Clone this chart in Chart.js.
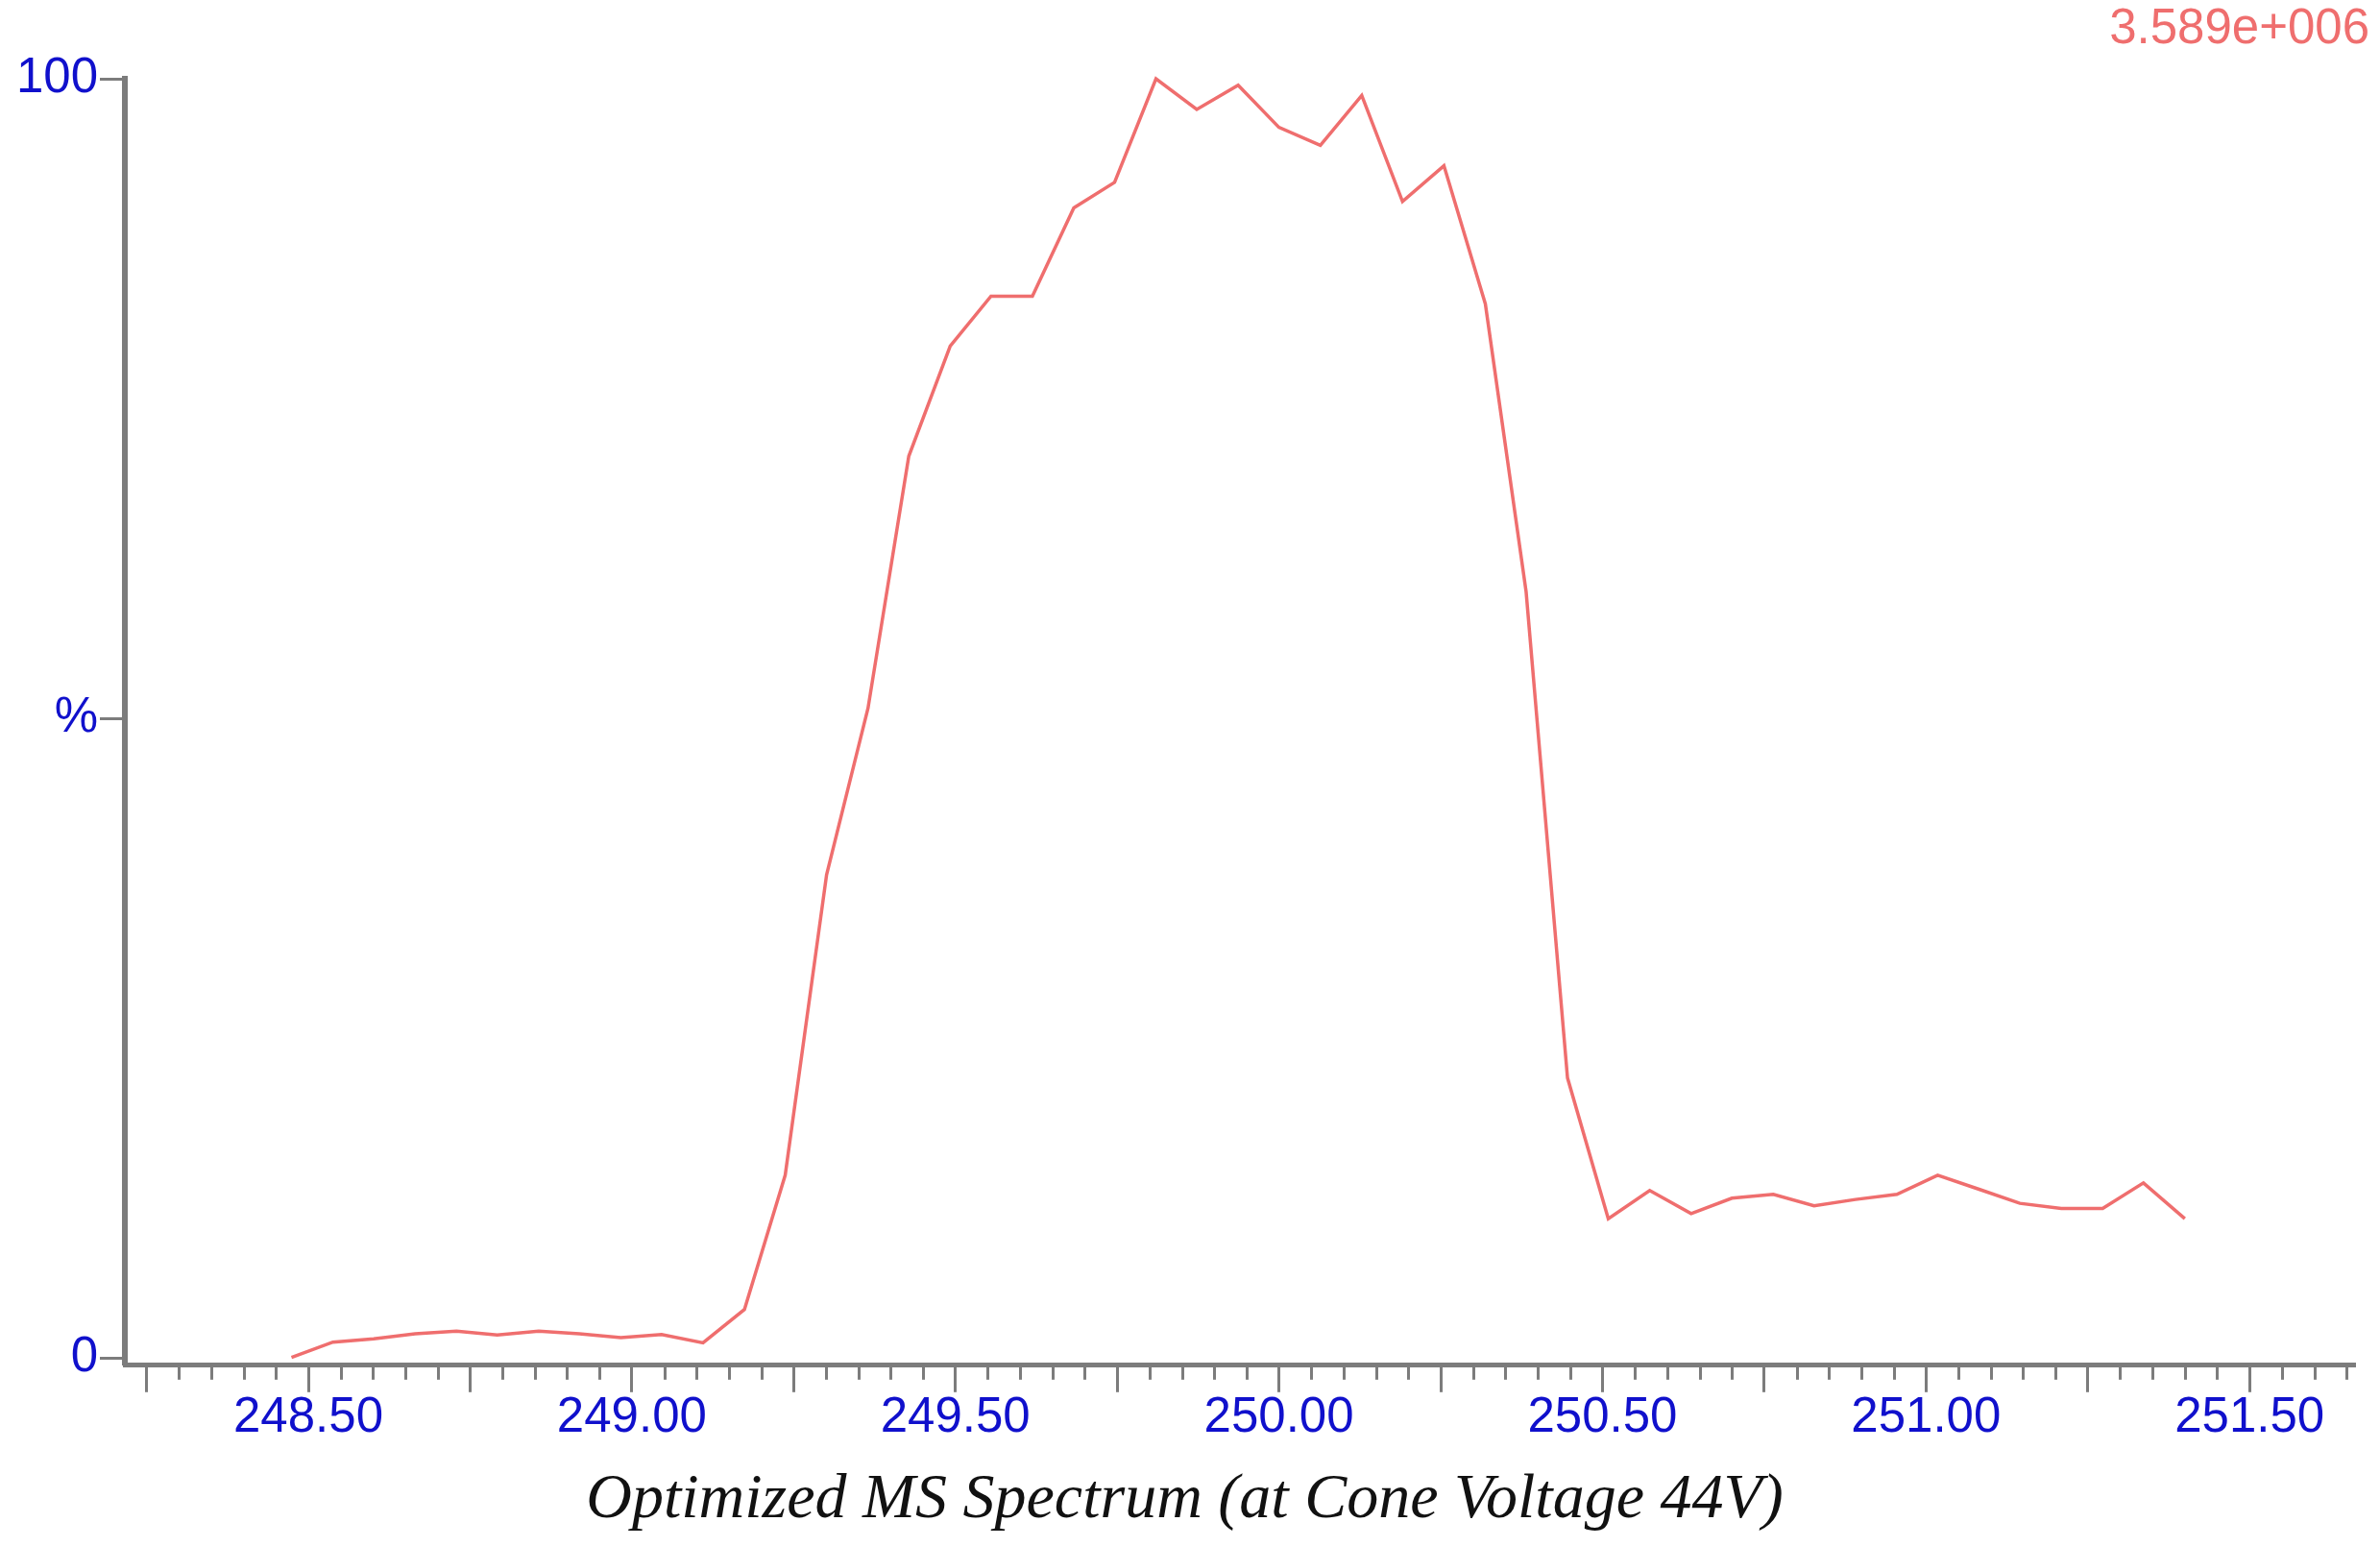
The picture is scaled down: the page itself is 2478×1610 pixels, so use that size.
<!DOCTYPE html>
<html>
<head>
<meta charset="utf-8">
<title>Optimized MS Spectrum</title>
<script src="https://cdn.jsdelivr.net/npm/chart.js@4/dist/chart.umd.min.js"></script>
<style>
  html, body { margin: 0; padding: 0; background: #ffffff; }
  #wrap { width: 2478px; height: 1610px; position: relative; }
</style>
</head>
<body>
<div id="wrap"><canvas id="spectrumChart"></canvas></div>
<script>
/* ---- data ---- */
const mzValues = [
    248.474, 248.538, 248.601, 248.665, 248.729, 248.792, 248.856, 248.919,
    248.983, 249.046, 249.110, 249.174, 249.237, 249.301, 249.365, 249.428,
    249.492, 249.555, 249.619, 249.683, 249.746, 249.810, 249.873, 249.937,
    250.000, 250.064, 250.128, 250.191, 250.255, 250.319, 250.382, 250.446,
    250.509, 250.573, 250.637, 250.700, 250.764, 250.827, 250.891, 250.955,
    251.018, 251.082, 251.145, 251.209, 251.273, 251.336, 251.400
];
const intensityPct = [
    0.05, 1.25, 1.5, 1.9, 2.1, 1.8, 2.1, 1.9,
    1.6, 1.85, 1.2, 3.8, 14.3, 37.8, 50.8, 70.5,
    79.1, 83.0, 83.0, 89.9, 91.9, 100, 97.6, 99.5,
    96.2, 94.8, 98.7, 90.4, 93.2, 82.4, 59.9, 21.9,
    10.9, 13.1, 11.3, 12.5, 12.8, 11.9, 12.4, 12.8,
    14.3, 13.2, 12.1, 11.7, 11.7, 13.7, 10.9
];

const xMajorTicks = [248.25, 248.50, 248.75, 249.00, 249.25, 249.50, 249.75,
                     250.00, 250.25, 250.50, 250.75, 251.00, 251.25, 251.50];
const xTickLabels = ["248.50", "249.00", "249.50", "250.00", "250.50", "251.00", "251.50"];
const yTickValues = [0, 50, 100];
const yTickLabels = ["0", "%", "100"];

const baseIntensity = "3.589e+006";
const chartTitle = "Optimized MS Spectrum (at Cone Voltage 44V)";

/* ---- colours ---- */
const axisGrey = "#7c7c7c";
const tickBlue = "#1010cc";
const traceRed = "#ef6e6e";
const sansFont = "'Liberation Sans', Arial, sans-serif";

/* minor ticks every 0.05 between the longer ones */
const minorTicks = {
    id: "minorTicks",
    afterDraw(chart) {
        const xs = chart.scales.x;
        const ctx = chart.ctx;
        ctx.save();
        ctx.strokeStyle = axisGrey;
        ctx.lineWidth = 3;
        for (let i = 0; ; i++) {
            const v = 248.25 + i * 0.05;
            if (v > xs.max) break;
            if (i % 5 === 0) continue;
            const px = Math.round(xs.getPixelForValue(v)) + 0.5;
            ctx.beginPath();
            ctx.moveTo(px, xs.top);
            ctx.lineTo(px, xs.top + 15);
            ctx.stroke();
        }
        ctx.restore();
    }
};

new Chart(document.getElementById("spectrumChart"), {
    type: "line",
    data: {
        datasets: [{
            data: mzValues.map((m, i) => ({ x: m, y: intensityPct[i] })),
            borderColor: traceRed,
            borderWidth: 3.5,
            pointRadius: 0,
            tension: 0,
            fill: false,
            clip: 6
        }]
    },
    options: {
        responsive: true,
        maintainAspectRatio: false,
        animation: false,
        layout: { padding: { left: 0, right: 11, top: 0, bottom: 0 } },
        plugins: {
            legend: { display: false },
            tooltip: { enabled: false },
            subtitle: {
                display: true,
                position: "top",
                align: "end",
                text: baseIntensity,
                color: traceRed,
                font: { family: sansFont, size: 51, weight: "normal", lineHeight: 1.1 },
                padding: { top: 3, bottom: 22.9 }
            },
            title: {
                display: true,
                position: "bottom",
                text: chartTitle,
                color: "#111111",
                font: { family: "'Liberation Serif', 'Times New Roman', serif", size: 66, style: "italic", weight: "normal", lineHeight: 1.2 },
                padding: { top: 0, bottom: 8 }
            }
        },
        scales: {
            x: {
                type: "linear",
                min: 248.2165,
                max: 251.663,
                afterBuildTicks: s => { s.ticks = xMajorTicks.map(v => ({ value: v })); },
                afterFit: s => { s.height = 101; },
                border: { display: true, color: axisGrey, width: 5 },
                grid: { drawOnChartArea: false, drawTicks: true, tickLength: 28, tickWidth: 3, tickColor: axisGrey },
                ticks: {
                    autoSkip: false,
                    maxRotation: 0,
                    padding: 2,
                    color: tickBlue,
                    font: { family: sansFont, size: 51, lineHeight: 1.0 },
                    callback: v => {
                        const t = Number(v).toFixed(2);
                        return xTickLabels.includes(t) ? t : "";
                    }
                }
            },
            y: {
                min: -0.56,
                max: 100,
                afterBuildTicks: s => { s.ticks = yTickValues.map(v => ({ value: v })); },
                afterFit: s => { s.width = 130; },
                border: { display: true, color: axisGrey, width: 6 },
                grid: { drawOnChartArea: false, drawTicks: true, tickLength: 26, tickWidth: 3, tickColor: axisGrey },
                ticks: {
                    padding: 2,
                    color: tickBlue,
                    font: { family: sansFont, size: 51, lineHeight: 1.0 },
                    callback: v => {
                        const i = yTickValues.indexOf(v);
                        return i >= 0 ? yTickLabels[i] : "";
                    }
                }
            },
            yRight: {
                position: "right",
                display: true,
                border: { display: false },
                grid: { display: false },
                ticks: { display: false },
                afterFit: s => { s.width = 15; }
            }
        }
    },
    plugins: [minorTicks]
});
</script>
</body>
</html>
